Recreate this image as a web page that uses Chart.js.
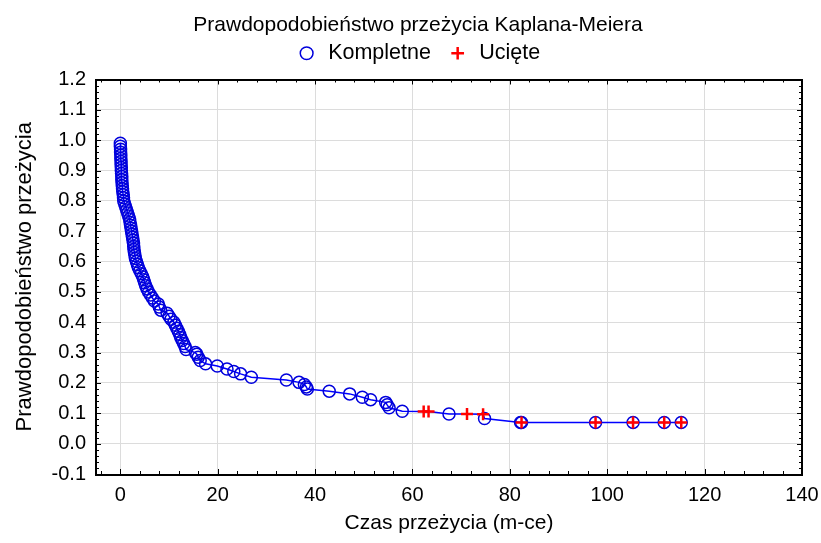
<!DOCTYPE html>
<html>
<head>
<meta charset="utf-8">
<script src="https://cdn.jsdelivr.net/npm/chart.js@4.4.0/dist/chart.umd.min.js"></script>
<style>
  body { margin: 0; background: #fff; }
  #wrap { width: 821px; height: 543px; }
</style>
</head>
<body>
<div id="wrap"><canvas id="km"></canvas></div>
<script>
// complete (event) observations: time, survival probability
var compTime = [
  0.0, 0.0, 0.05, 0.05, 0.1, 0.1, 0.15, 0.15, 0.2, 0.2,
  0.25, 0.3, 0.3, 0.35, 0.4, 0.45, 0.5, 0.6, 0.65, 0.7,
  0.9, 1.1, 1.3, 1.5, 1.7, 1.9, 2.0, 2.1, 2.2, 2.3,
  2.4, 2.5, 2.6, 2.7, 2.75, 2.8, 2.9, 3.0, 3.1, 3.3,
  3.5, 3.7, 4.0, 4.3, 4.6, 4.8, 5.0, 5.2, 5.5, 5.8,
  6.2, 6.6, 7.0, 7.8, 8.0, 8.3, 9.6, 10.0, 10.4, 11.0,
  11.3, 11.6, 11.9, 12.2, 12.4, 12.7, 13.0, 13.3, 13.5, 15.4,
  15.7, 16.0, 16.4, 17.5, 19.9, 21.9, 23.3, 24.7, 26.9, 34.1,
  36.7, 37.8, 38.2, 38.4, 42.9, 47.1, 49.7, 51.4, 54.5, 54.8,
  55.2, 57.9, 67.5, 74.8, 82.2, 82.4, 97.6, 105.3, 111.7, 115.2
];
var compProb = [
  0.99, 0.98, 0.97, 0.96, 0.95, 0.94, 0.93, 0.92, 0.91, 0.90,
  0.89, 0.88, 0.87, 0.86, 0.85, 0.84, 0.83, 0.82, 0.81, 0.80,
  0.79, 0.78, 0.77, 0.76, 0.75, 0.74, 0.73, 0.72, 0.71, 0.70,
  0.69, 0.68, 0.67, 0.66, 0.65, 0.64, 0.63, 0.62, 0.61, 0.60,
  0.59, 0.58, 0.57, 0.56, 0.55, 0.54, 0.53, 0.52, 0.51, 0.50,
  0.49, 0.48, 0.47, 0.46, 0.45, 0.44, 0.43, 0.42, 0.41, 0.40,
  0.39, 0.38, 0.37, 0.36, 0.35, 0.34, 0.33, 0.32, 0.31, 0.30,
  0.295, 0.285, 0.274, 0.263, 0.256, 0.246, 0.238, 0.230, 0.219, 0.210,
  0.202, 0.195, 0.187, 0.180, 0.173, 0.164, 0.153, 0.145, 0.136, 0.128,
  0.118, 0.107, 0.098, 0.083, 0.070, 0.070, 0.070, 0.070, 0.070, 0.070
];
// censored observations
var censTime = [62.3, 63.3, 71.2, 74.5, 82.4, 97.6, 105.3, 111.7, 115.2];
var censProb = [0.106, 0.106, 0.098, 0.097, 0.070, 0.070, 0.070, 0.070, 0.070];

var xTicks = [0, 20, 40, 60, 80, 100, 120, 140];
var yTicks = [-0.1, 0.0, 0.1, 0.2, 0.3, 0.4, 0.5, 0.6, 0.7, 0.8, 0.9, 1.0, 1.1, 1.2];

var compPts = compTime.map((t, i) => ({x: t, y: compProb[i]}));
var censPts = censTime.map((t, i) => ({x: t, y: censProb[i]}));
var curvePts = compPts.concat(censPts).sort((a, b) => a.x - b.x || b.y - a.y);

Chart.defaults.font.family = "'Liberation Sans', Arial, sans-serif";
Chart.defaults.font.size = 20;
Chart.defaults.color = '#000';

// frame round the plot and inner tick marks on all four sides
var frame = {
  id: 'frame',
  afterDatasetsDraw(chart) {
    var c = chart.ctx, a = chart.chartArea;
    var xs = chart.scales.x, ys = chart.scales.y;
    c.save();
    c.strokeStyle = '#000';
    c.lineWidth = 1;
    c.beginPath();
    for (var v = -4; v <= 140; v += 4) {
      var px = Math.round(xs.getPixelForValue(v)) + 0.5;
      var len = (v % 20 === 0) ? 5 : 3;
      c.moveTo(px, a.bottom); c.lineTo(px, a.bottom - len);
      c.moveTo(px, a.top); c.lineTo(px, a.top + len);
    }
    for (var k = -5; k <= 60; k++) {
      var py = Math.round(ys.getPixelForValue(k * 0.02)) + 0.5;
      var len2 = (k % 5 === 0) ? 5 : 3;
      c.moveTo(a.left, py); c.lineTo(a.left + len2, py);
      c.moveTo(a.right, py); c.lineTo(a.right - len2, py);
    }
    c.stroke();
    c.lineWidth = 2;
    c.strokeRect(Math.round(a.left), Math.round(a.top), Math.round(a.right - a.left), Math.round(a.bottom - a.top));
    c.restore();
  }
};

var hidden = {
  display: true,
  grid: { display: false },
  border: { display: false },
  ticks: { display: false }
};

new Chart(document.getElementById('km'), {
  type: 'scatter',
  data: {
    datasets: [
      {
        label: 'Kompletne',
        data: compPts,
        pointStyle: 'circle',
        pointRadius: 6,
        borderWidth: 1.5,
        borderColor: 'rgb(0,0,220)',
        backgroundColor: 'rgba(0,0,0,0)',
        order: 1
      },
      {
        label: 'Ucięte',
        data: censPts,
        pointStyle: 'cross',
        pointRadius: 6,
        borderWidth: 2.5,
        borderColor: '#ff0000',
        backgroundColor: '#ff0000',
        order: 0
      },
      {
        label: 'curve',
        data: curvePts,
        showLine: true,
        pointRadius: 0,
        borderWidth: 1.5,
        borderColor: 'rgb(0,0,255)',
        order: 2
      }
    ]
  },
  options: {
    responsive: true,
    maintainAspectRatio: false,
    animation: false,
    layout: { padding: { top: 0, right: 0, left: 15, bottom: 0 } },
    plugins: {
      title: {
        display: true,
        text: 'Prawdopodobieństwo przeżycia Kaplana-Meiera',
        font: { size: 21, weight: 'normal' },
        padding: { top: 12.4, bottom: -11.1 }
      },
      legend: {
        labels: {
          font: { size: 21.5 },
          usePointStyle: true,
          boxHeight: 9,
          padding: 16,
          filter: item => item.text !== 'curve',
          sort: (a, b) => a.datasetIndex - b.datasetIndex
        }
      },
      tooltip: { enabled: false }
    },
    scales: {
      x: {
        type: 'linear',
        position: 'bottom',
        min: -5,
        max: 140,
        afterBuildTicks: s => { s.ticks = xTicks.map(v => ({value: v})); },
        afterFit: s => { s.height = 69; s.paddingLeft = 0; s.paddingRight = 0; },
        grid: { color: '#dcdcdc', drawTicks: false },
        border: { display: false },
        ticks: { padding: 9 },
        title: { display: true, text: 'Czas przeżycia (m-ce)', font: { size: 21 }, padding: { top: 0, bottom: 7.4 } }
      },
      y: {
        type: 'linear',
        position: 'left',
        min: -0.1,
        max: 1.2,
        afterBuildTicks: s => { s.ticks = yTicks.map(v => ({value: v})); },
        afterFit: s => { s.width = 81; },
        grid: { color: '#dcdcdc', drawTicks: false },
        border: { display: false },
        ticks: {
          padding: 10,
          callback: v => (Math.abs(v) < 1e-9 ? 0 : v).toFixed(1)
        },
        title: { display: true, text: 'Prawdopodobieństwo przeżycia', font: { size: 22 }, padding: { top: -3.6, bottom: 0 } }
      },
      // empty spacer axes that keep the plot box where the reference has it
      xTop: Object.assign({ type: 'linear', position: 'top', afterFit: s => { s.height = 5.5; s.paddingLeft = 0; s.paddingRight = 0; } }, hidden),
      yRight: Object.assign({ type: 'linear', position: 'right', afterFit: s => { s.width = 19; s.paddingTop = 0; s.paddingBottom = 0; } }, hidden)
    }
  },
  plugins: [frame]
});
</script>
</body>
</html>
